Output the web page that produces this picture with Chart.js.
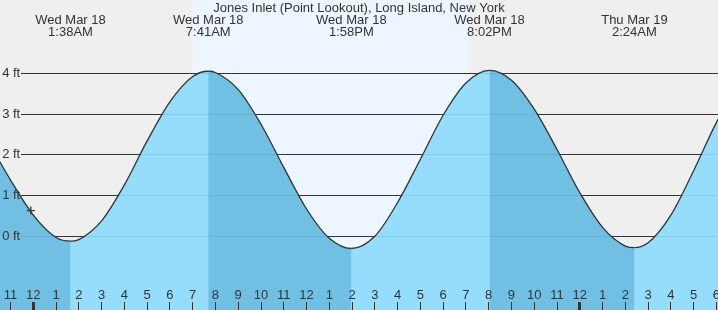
<!DOCTYPE html>
<html>
<head>
<meta charset="utf-8">
<script src="https://cdn.jsdelivr.net/npm/chart.js@4/dist/chart.umd.min.js"></script>
<style>
	html, body { margin: 0; padding: 0; background: #efefef; }
	#tide { display: block; }
</style>
</head>
<body>
<canvas id="tide" width="718" height="310"></canvas>
<script>
'use strict';

// hours counted from midnight, Wed Mar 18
const tideHours = [-2, -1, 0, 1, 1.633, 2, 3, 4, 5, 6, 7, 7.683, 8, 9, 10, 11, 12, 13, 13.967, 15, 16, 17, 18, 19, 20.033, 21, 22, 23, 24, 25, 26, 26.4, 27, 28, 29, 30, 31];
const tideFeet = [2.35, 1.38, 0.52, -0.03, -0.12, -0.08, 0.38, 1.26, 2.34, 3.30, 3.92, 4.05, 4.02, 3.60, 2.75, 1.69, 0.67, -0.05, -0.30, 0.00, 0.83, 1.89, 2.97, 3.76, 4.07, 3.83, 3.12, 2.13, 1.07, 0.22, -0.24, -0.28, -0.16, 0.52, 1.61, 2.79, 3.71];

const extremeHours = [1.633, 7.683, 13.967, 20.033, 26.4];
const extremeDates = ['Wed Mar 18', 'Wed Mar 18', 'Wed Mar 18', 'Wed Mar 18', 'Thu Mar 19'];
const extremeTimes = ['1:38AM', '7:41AM', '1:58PM', '8:02PM', '2:24AM'];

const hourTicks = [-1, 0, 1, 2, 3, 4, 5, 6, 7, 8, 9, 10, 11, 12, 13, 14, 15, 16, 17, 18, 19, 20, 21, 22, 23, 24, 25, 26, 27, 28, 29, 30];
const hourLabels = ['11', '12', '1', '2', '3', '4', '5', '6', '7', '8', '9', '10', '11', '12', '1', '2', '3', '4', '5', '6', '7', '8', '9', '10', '11', '12', '1', '2', '3', '4', '5', '6'];

const feetTicks = [0, 1, 2, 3, 4];

const sunriseHour = 7.0;
const sunsetHour = 19.1;
const nowHour = -0.11;
const nowFeet = 0.63;

const title = 'Jones Inlet (Point Lookout), Long Island, New York';

const xMin = -1.4625;
const xMax = 30.07;
const yMin = -1.809;
const yMax = 5.406;
const textColor = '#333';
const waterColor = 'rgba(140, 218, 253, 0.9)';
const ebbColor = 'rgba(30, 127, 172, 0.3)';
const font = '"Liberation Sans", Arial, sans-serif';

Chart.defaults.font.family = font;
Chart.defaults.font.size = 13;
Chart.defaults.color = textColor;

function noPadding(scale) {
	scale.paddingTop = 0;
	scale.paddingBottom = 0;
	scale.paddingLeft = 0;
	scale.paddingRight = 0;
}

function setTicks(values) {
	return function (scale) {
		scale.ticks = values.map(function (v) { return { value: v }; });
	};
}

const dayShade = {
	id: 'dayShade',
	beforeDraw(chart) {
		const ctx = chart.ctx;
		const x = chart.scales.x;
		const x0 = x.getPixelForValue(sunriseHour);
		const x1 = x.getPixelForValue(sunsetHour);

		ctx.save();
		ctx.fillStyle = '#efefef';
		ctx.fillRect(0, 0, chart.width, chart.height);
		ctx.fillStyle = '#edf6ff';
		ctx.fillRect(x0, 0, x1 - x0, chart.height);
		ctx.restore();
	}
};

const tidePoints = tideHours.map(function (h, i) { return { x: h, y: tideFeet[i] }; });

new Chart(document.getElementById('tide'), {
	type: 'line',
	data: {
		datasets: [{
			// current time marker
			data: [{ x: nowHour, y: nowFeet }],
			showLine: false,
			pointStyle: 'cross',
			pointRadius: 4,
			borderColor: '#333',
			borderWidth: 1.3,
			order: -1
		}, {
			// falling tide shade and the curve itself
			data: tidePoints,
			borderColor: '#333',
			borderWidth: 1.3,
			pointRadius: 0,
			cubicInterpolationMode: 'monotone',
			fill: 'start',
			backgroundColor: 'rgba(0, 0, 0, 0)',
			segment: {
				backgroundColor: function (ctx) {
					return ctx.p1.parsed.y < ctx.p0.parsed.y ? ebbColor : 'rgba(0, 0, 0, 0)';
				}
			},
			order: 0
		}, {
			// water
			data: tidePoints,
			borderWidth: 0,
			pointRadius: 0,
			cubicInterpolationMode: 'monotone',
			fill: 'start',
			backgroundColor: waterColor,
			order: 1
		}]
	},
	options: {
		responsive: false,
		animation: false,
		devicePixelRatio: 1,
		layout: { padding: 0, autoPadding: false },
		plugins: {
			legend: { display: false },
			tooltip: { enabled: false },
			title: {
				display: true,
				text: title,
				color: textColor,
				font: { size: 13, weight: 'normal', lineHeight: '16px' },
				padding: { top: 0, bottom: 0 }
			}
		},
		scales: {
			x: { type: 'linear', min: xMin, max: xMax, display: false },
			y: { type: 'linear', min: yMin, max: yMax, display: false },
			yGrid: {
				axis: 'y',
				type: 'linear',
				min: yMin,
				max: yMax,
				position: { x: -0.54 },
				afterBuildTicks: setTicks(feetTicks),
				afterFit: noPadding,
				border: { display: false },
				grid: { drawOnChartArea: false, drawTicks: true, tickLength: -720, tickColor: '#333', tickWidth: 1 },
				ticks: { display: false }
			},
			yLab: {
				axis: 'y',
				type: 'linear',
				min: yMin,
				max: yMax,
				position: { x: -0.575 },
				afterBuildTicks: setTicks(feetTicks),
				afterFit: noPadding,
				border: { display: false },
				grid: { display: false },
				ticks: {
					z: 1,
					padding: 0,
					color: textColor,
					callback: function (v) { return v + ' ft'; }
				}
			},
			xHours: {
				axis: 'x',
				type: 'linear',
				min: xMin,
				max: xMax,
				position: { y: -1.612 },
				afterBuildTicks: setTicks(hourTicks),
				afterFit: noPadding,
				border: { display: false },
				grid: {
					z: 1,
					drawOnChartArea: false,
					drawTicks: true,
					tickLength: 8,
					tickColor: '#333',
					tickWidth: function (ctx) { return ctx.tick && ctx.tick.value % 24 === 0 ? 3 : 1; }
				},
				ticks: {
					z: 1,
					autoSkip: false,
					maxRotation: 0,
					padding: -22.3,
					color: textColor,
					font: { size: 13, lineHeight: 1.2 },
					callback: function (v) { return hourLabels[hourTicks.indexOf(v)]; }
				}
			},
			xTop: {
				axis: 'x',
				type: 'linear',
				min: xMin,
				max: xMax,
				position: { y: yMax },
				afterBuildTicks: setTicks(extremeHours),
				afterFit: noPadding,
				border: { display: false },
				grid: { display: false, drawTicks: false },
				ticks: {
					z: 1,
					autoSkip: false,
					maxRotation: 0,
					padding: -2,
					color: textColor,
					font: { size: 13, lineHeight: '12px' },
					callback: function (v) {
						const i = extremeHours.indexOf(v);
						return [extremeDates[i], extremeTimes[i]];
					}
				}
			}
		}
	},
	plugins: [dayShade]
});
</script>
</body>
</html>
